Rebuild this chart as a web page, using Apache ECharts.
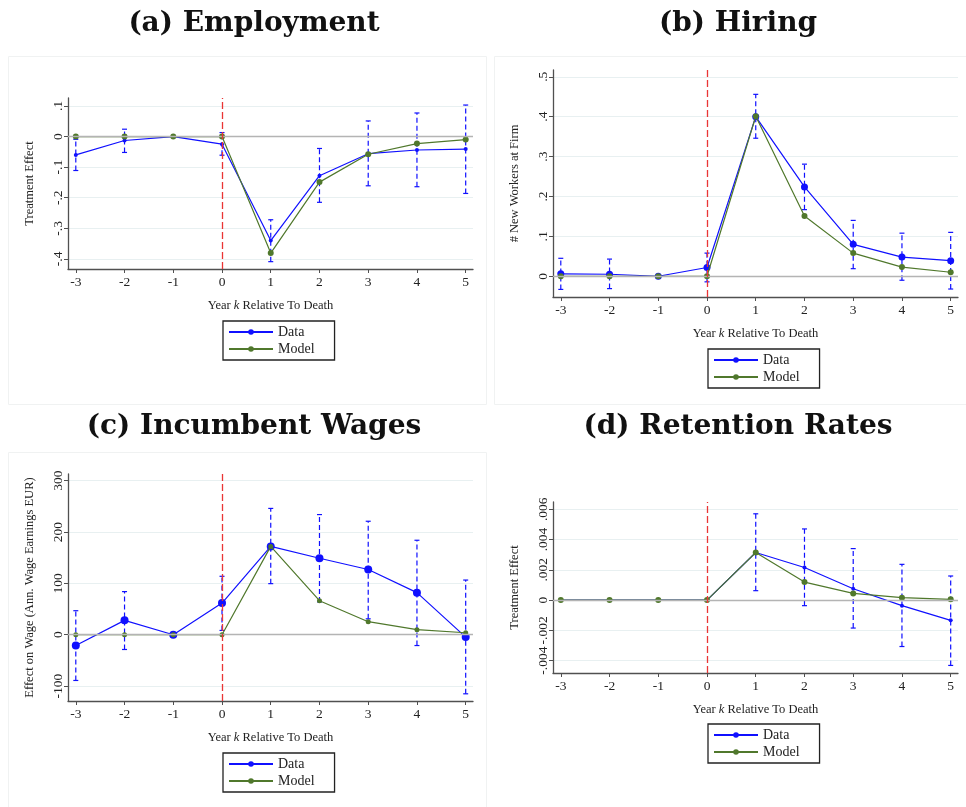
<!DOCTYPE html>
<html>
<head>
<meta charset="utf-8">
<script src="https://cdn.jsdelivr.net/npm/echarts@6/dist/echarts.min.js"></script>
<style>
  html, body { margin: 0; padding: 0; background: #fff; }
  #chart { width: 966px; height: 807px; }
</style>
</head>
<body>
<div id="chart"></div>
<script>
// years relative to death
const years = [-3, -2, -1, 0, 1, 2, 3, 4, 5];

// (a) employment
const empData = [-0.060, -0.013, 0, -0.025, -0.340, -0.128, -0.056, -0.044, -0.041];
const empModel = [0, 0, 0, 0, -0.381, -0.149, -0.058, -0.023, -0.010];
const empLo = [-0.111, -0.052, null, -0.061, -0.409, -0.215, -0.161, -0.164, -0.186];
const empHi = [-0.009, 0.024, null, 0.013, -0.272, -0.039, 0.051, 0.077, 0.103];
const empTicks = [-0.4, -0.3, -0.2, -0.1, 0, 0.1];
const empLabels = ['-.4', '-.3', '-.2', '-.1', '0', '.1'];

// (b) hiring
const hireData = [0.006, 0.005, 0, 0.022, 0.400, 0.224, 0.080, 0.048, 0.039];
const hireModel = [0, 0, 0, 0, 0.401, 0.151, 0.058, 0.023, 0.010];
const hireLo = [-0.033, -0.031, null, -0.014, 0.346, 0.167, 0.019, -0.010, -0.032];
const hireHi = [0.045, 0.043, null, 0.058, 0.456, 0.281, 0.140, 0.108, 0.110];
const hireTicks = [0, 0.1, 0.2, 0.3, 0.4, 0.5];
const hireLabels = ['0', '.1', '.2', '.3', '.4', '.5'];

// (c) incumbent wages
const wageData = [-20.9, 28, 0, 61.7, 172, 149, 127, 82, -4.6];
const wageModel = [0, 0, 0, 0, 172, 66.3, 25.4, 9.8, 3.9];
const wageLo = [-89, -28.7, null, 8.4, 99.5, 64, 31, -21, -115];
const wageHi = [46.8, 84, null, 113.8, 246, 234, 221, 184, 106.5];
const wageTicks = [-100, 0, 100, 200, 300];
const wageLabels = ['-100', '0', '100', '200', '300'];

// (d) retention rates
const retData = [0, 0, 0, 0, 0.00314, 0.00215, 0.00075, -0.00037, -0.00134];
const retModel = [0, 0, 0, 0, 0.00314, 0.00119, 0.00044, 0.00016, 0.00005];
const retLo = [null, null, null, null, 0.00062, -0.00037, -0.00185, -0.00307, -0.00432];
const retHi = [null, null, null, null, 0.0057, 0.0047, 0.0034, 0.00236, 0.00159];
const retTicks = [-0.004, -0.002, 0, 0.002, 0.004, 0.006];
const retLabels = ['-.004', '-.002', '0', '.002', '.004', '.006'];

const xLabels = ['-3', '-2', '-1', '0', '1', '2', '3', '4', '5'];

const BLUE = '#1010ff';
const GREEN = '#50782c';
const AXIS = '#505050';
const FONT = 'Liberation Serif';

function labelFor(ticks, labels) {
	return function (v) {
		let best = 0;
		for (let i = 1; i < ticks.length; i++) {
			if (Math.abs(ticks[i] - v) < Math.abs(ticks[best] - v)) best = i;
		}
		return labels[best];
	};
}

function renderCI(params, api) {
	const x = api.value(0);
	const lo = api.coord([x, api.value(1)]);
	const hi = api.coord([x, api.value(2)]);
	const cap = 2.5;
	const dash = { stroke: BLUE, lineWidth: 1.2, lineDash: [5, 3] };
	const solid = { stroke: BLUE, lineWidth: 1.2 };
	return {
		type: 'group',
		children: [
			{ type: 'line', shape: { x1: lo[0], y1: lo[1], x2: hi[0], y2: hi[1] }, style: dash },
			{ type: 'line', shape: { x1: lo[0] - cap, y1: lo[1], x2: lo[0] + cap, y2: lo[1] }, style: solid },
			{ type: 'line', shape: { x1: hi[0] - cap, y1: hi[1], x2: hi[0] + cap, y2: hi[1] }, style: solid }
		]
	};
}

const panels = [
	{
		grid: { left: 68, top: 98, width: 405, height: 171 },
		yMin: -0.433, yMax: 0.126, yName: 'Treatment Effect',
		ticks: empTicks, labels: empLabels,
		data: empData, model: empModel, lo: empLo, hi: empHi,
		dataSize: 4, modelSize: 6,
		legend: { left: 223, top: 321 }
	},
	{
		grid: { left: 553, top: 70, width: 405, height: 227 },
		yMin: -0.052, yMax: 0.517, yName: '# New Workers at Firm',
		ticks: hireTicks, labels: hireLabels,
		data: hireData, model: hireModel, lo: hireLo, hi: hireHi,
		dataSize: 7, modelSize: 6,
		legend: { left: 708, top: 349 }
	},
	{
		grid: { left: 68, top: 474, width: 405, height: 227 },
		yMin: -129, yMax: 313, yName: 'Effect on Wage (Ann. Wage Earnings EUR)',
		ticks: wageTicks, labels: wageLabels,
		data: wageData, model: wageModel, lo: wageLo, hi: wageHi,
		dataSize: 8, modelSize: 5,
		legend: { left: 223, top: 753 }
	},
	{
		grid: { left: 553, top: 502, width: 405, height: 171 },
		yMin: -0.00482, yMax: 0.00648, yName: 'Treatment Effect',
		ticks: retTicks, labels: retLabels,
		data: retData, model: retModel, lo: retLo, hi: retHi,
		dataSize: 4, modelSize: 6,
		legend: { left: 708, top: 724 }
	}
];

const grids = [], xAxes = [], yAxes = [], series = [], legends = [];

panels.forEach((p, i) => {
	grids.push(p.grid);
	xAxes.push({
		type: 'value',
		gridIndex: i,
		min: -3.16,
		max: 5.15,
		name: '{n|Year }{i|k}{n| Relative To Death}',
		nameLocation: 'middle',
		nameGap: 30,
		nameTextStyle: {
			rich: {
				n: { fontFamily: FONT, fontSize: 12.5, color: '#222' },
				i: { fontFamily: FONT, fontSize: 12.5, fontStyle: 'italic', color: '#222' }
			}
		},
		axisLine: { show: true, onZero: false, lineStyle: { color: AXIS, width: 1.3 } },
		axisTick: { show: true, length: 4, customValues: years, lineStyle: { color: AXIS } },
		axisLabel: {
			customValues: years,
			formatter: labelFor(years, xLabels),
			fontFamily: FONT, fontSize: 13.5, color: '#222', margin: 6
		},
		splitLine: { show: false }
	});
	yAxes.push({
		type: 'value',
		gridIndex: i,
		min: p.yMin,
		max: p.yMax,
		name: p.yName,
		nameLocation: 'middle',
		nameGap: 32,
		nameTextStyle: { fontFamily: FONT, fontSize: 12.5, color: '#222' },
		axisLine: { show: true, onZero: false, lineStyle: { color: AXIS, width: 1.3 } },
		axisTick: { show: true, length: 4, customValues: p.ticks, lineStyle: { color: AXIS } },
		axisLabel: {
			customValues: p.ticks,
			formatter: labelFor(p.ticks, p.labels),
			rotate: 90,
			fontFamily: FONT, fontSize: 13.5, color: '#222', margin: 3
		},
		splitLine: { show: true, lineStyle: { color: '#e8f0f1', width: 1 } }
	});

	series.push({
		type: 'custom',
		xAxisIndex: i,
		yAxisIndex: i,
		z: 2,
		silent: true,
		renderItem: renderCI,
		encode: { x: 0, y: [1, 2] },
		data: years.map((y, j) => [y, p.lo[j], p.hi[j]]).filter(d => d[1] != null),
		markLine: {
			silent: true,
			symbol: 'none',
			label: { show: false },
			lineStyle: { color: '#b4b4b4', width: 1.4, type: 'solid' },
			data: [{ yAxis: 0 }]
		}
	});
	series.push({
		name: 'Data',
		type: 'line',
		xAxisIndex: i,
		yAxisIndex: i,
		z: 3,
		symbol: 'circle',
		symbolSize: p.dataSize,
		color: BLUE,
		lineStyle: { color: BLUE, width: 1.2 },
		data: years.map((y, j) => [y, p.data[j]]),
		markLine: {
			silent: true,
			symbol: 'none',
			label: { show: false },
			lineStyle: { color: '#ea3535', width: 1.3, type: [7, 3] },
			data: [{ xAxis: 0 }]
		}
	});
	series.push({
		name: 'Model',
		type: 'line',
		xAxisIndex: i,
		yAxisIndex: i,
		z: 4,
		symbol: 'circle',
		symbolSize: p.modelSize,
		color: GREEN,
		lineStyle: { color: GREEN, width: 1.2 },
		data: years.map((y, j) => [y, p.model[j]])
	});

	legends.push({
		left: p.legend.left,
		top: p.legend.top,
		orient: 'vertical',
		data: ['Data', 'Model'],
		itemWidth: 44,
		itemHeight: 7,
		itemGap: 3,
		padding: [4, 20, 4, 5],
		borderColor: '#222',
		borderWidth: 1.3,
		selectedMode: false,
		textStyle: { fontFamily: FONT, fontSize: 14, color: '#222' }
	});
});

const titleStyle = { fontFamily: 'DejaVu Serif', fontWeight: 'bold', fontSize: 28, color: '#111' };

const option = {
	animation: false,
	backgroundColor: '#fff',
	title: [
		{ text: '(a) Employment', left: 249, top: 5, textAlign: 'center', textStyle: titleStyle },
		{ text: '(b) Hiring', left: 733, top: 5, textAlign: 'center', textStyle: titleStyle },
		{ text: '(c) Incumbent Wages', left: 249, top: 408, textAlign: 'center', textStyle: titleStyle },
		{ text: '(d) Retention Rates', left: 733, top: 408, textAlign: 'center', textStyle: titleStyle }
	],
	graphic: [
		{ type: 'rect', shape: { x: 8.5, y: 56.5, width: 478, height: 348 }, style: { fill: 'none', stroke: '#f0f2f2' }, silent: true },
		{ type: 'rect', shape: { x: 494.5, y: 56.5, width: 472, height: 348 }, style: { fill: 'none', stroke: '#f0f2f2' }, silent: true },
		{ type: 'rect', shape: { x: 8.5, y: 452.5, width: 478, height: 360 }, style: { fill: 'none', stroke: '#f0f2f2' }, silent: true }
	],
	grid: grids,
	xAxis: xAxes,
	yAxis: yAxes,
	legend: legends,
	series: series
};

const myChart = echarts.init(document.getElementById('chart'));
myChart.setOption(option);
</script>
</body>
</html>
